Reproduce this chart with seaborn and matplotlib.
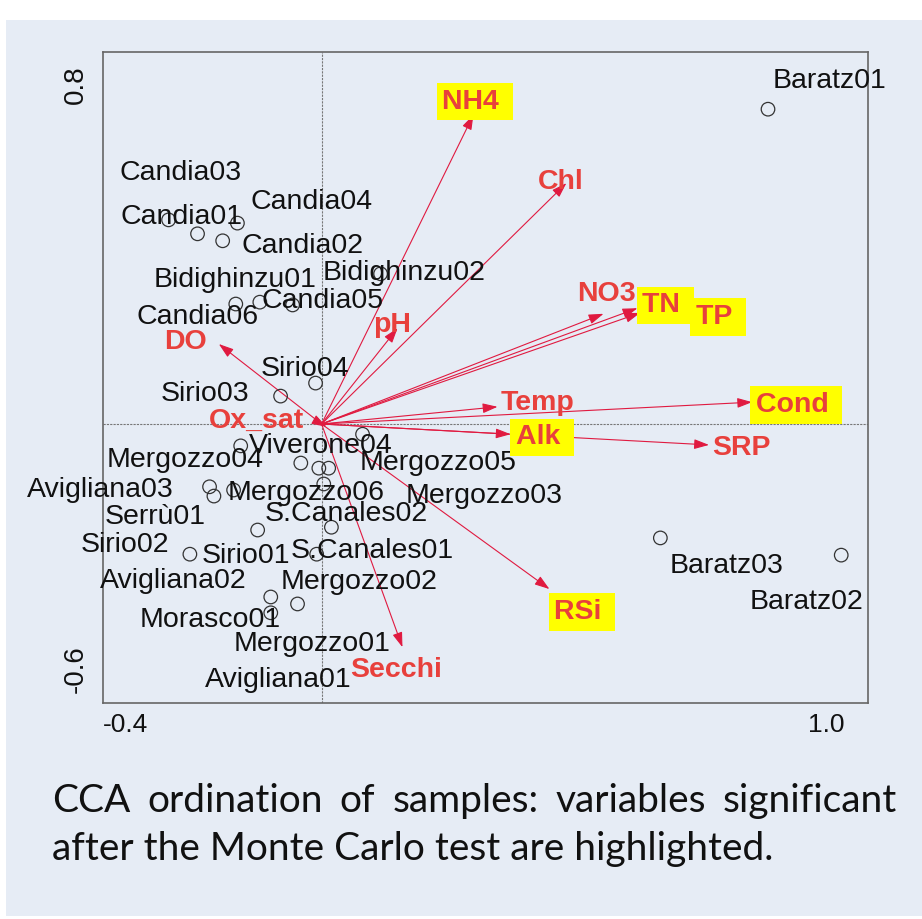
import numpy as np
import pandas as pd
import matplotlib
matplotlib.use("Agg")
import matplotlib.pyplot as plt
from matplotlib.patches import Rectangle
from matplotlib.transforms import ScaledTranslation
import seaborn as sns

# CCA sample scores (axis 1, axis 2)
sample_names = ["Baratz01", "Candia03", "Candia04", "Candia01", "Candia02", "Bidighinzu02",
                "Candia06", "Bidighinzu01", "Candia05", "Sirio04", "Sirio03", "Viverone04",
                "Mergozzo04", "Mergozzo05", "Mergozzo03", "Mergozzo02", "Avigliana01",
                "Avigliana03", "Serrù01", "Mergozzo06", "S.Canales02", "Sirio01", "Sirio02",
                "S.Canales01", "Avigliana02", "Mergozzo01", "Morasco01", "Baratz03", "Baratz02"]
sample_ax1 = [0.817, -0.280, -0.154, -0.227, -0.181, 0.108, -0.157, -0.113, -0.053, -0.011,
              -0.075, 0.075, -0.148, 0.013, -0.038, 0.004, -0.005, -0.205, -0.197, -0.161,
              0.018, -0.117, -0.241, -0.009, -0.093, -0.044, -0.093, 0.620, 0.951]
sample_ax2 = [0.677, 0.439, 0.432, 0.409, 0.394, 0.323, 0.258, 0.262, 0.256, 0.088,
              0.060, -0.022, -0.047, -0.095, -0.084, -0.129, -0.095, -0.135, -0.155, -0.142,
              -0.222, -0.228, -0.280, -0.280, -0.372, -0.387, -0.406, -0.245, -0.282]

# environmental variables (biplot arrows)
var_names = ["NH4", "Chl", "NO3", "TN", "TP", "pH", "DO", "Ox_sat", "Temp", "Cond",
             "Alk", "SRP", "RSi", "Secchi"]
var_ax1 = [0.278, 0.448, 0.516, 0.578, 0.583, 0.139, -0.188, 0.009, 0.322, 0.788,
           0.346, 0.709, 0.417, 0.148]
var_ax2 = [0.665, 0.518, 0.237, 0.249, 0.239, 0.206, 0.172, -0.006, 0.037, 0.047,
           -0.022, -0.045, -0.355, -0.480]
significant = ["NH4", "TN", "TP", "Cond", "Alk", "RSi"]

caption = ["CCA ordination of samples: variables significant",
           "after the Monte Carlo test are highlighted."]

# label placement, pixel offsets from each point (layout only)
sample_offsets = {
    "Baratz01": (61, 31), "Candia03": (12, 50), "Candia04": (74, 24), "Candia01": (-16, 20),
    "Candia02": (80, -2), "Bidighinzu02": (23, 4), "Candia06": (-38, -10),
    "Bidighinzu01": (-25, 25), "Candia05": (30, 7), "Sirio04": (-11, 17), "Sirio03": (-76, 5),
    "Viverone04": (-42, -9), "Mergozzo04": (-56, -11), "Mergozzo05": (109, 8),
    "Mergozzo03": (183, -30), "Mergozzo02": (35, -95), "Avigliana01": (-41, -209),
    "Avigliana03": (-109, 0), "Serrù01": (-59, -18), "Mergozzo06": (73, 0),
    "S.Canales02": (15, 16), "Sirio01": (-12, -23), "Sirio02": (-65, 12),
    "S.Canales01": (56, 6), "Avigliana02": (-98, 19), "Mergozzo01": (15, -37),
    "Morasco01": (-61, -4), "Baratz03": (66, -25), "Baratz02": (-35, -44),
}
var_offsets = {
    "NH4": (-31, 16), "Chl": (-28, 4), "NO3": (-26, 23), "TN": (5, 6), "TP": (56, -1),
    "pH": (-24, 6), "DO": (-55, 5), "Ox_sat": (-118, 9), "Temp": (3, 7), "Cond": (4, 0),
    "Alk": (5, 0), "SRP": (3, 0), "RSi": (5, -20), "Secchi": (-52, -20),
}

df_samples = pd.DataFrame({"name": sample_names, "ax1": sample_ax1, "ax2": sample_ax2})
df_vars = pd.DataFrame({"name": var_names, "ax1": var_ax1, "ax2": var_ax2})

bg = "#e6ecf5"
red_txt = "#e8403c"
red_arrow = "#e01a40"

sns.set_theme(style="white")
plt.rcParams["font.family"] = ["Liberation Sans", "DejaVu Sans"]

W, H = 922, 919
fig = plt.figure(figsize=(W / 100, H / 100), dpi=100, facecolor="white")
fig.patches.append(Rectangle((6 / W, 3 / H), 1 - 6 / W, (H - 23) / H, transform=fig.transFigure,
                             facecolor=bg, edgecolor="none", zorder=-5))
ax = fig.add_axes([103 / W, 1 - 703 / H, 765 / W, 651 / H])
ax.set_facecolor(bg)

ax.axhline(0, color="#777777", lw=0.8, ls=(0, (2, 1)), zorder=1)
ax.axvline(0, color="#777777", lw=0.8, ls=(0, (2, 1)), zorder=1)

# arrows for environmental variables
for row in df_vars.itertuples():
    ax.annotate("", xy=(row.ax1, row.ax2), xytext=(0, 0),
                arrowprops=dict(arrowstyle="-|>,head_length=0.9,head_width=0.3",
                                color=red_arrow, lw=0.8, shrinkA=0, shrinkB=0,
                                mutation_scale=10), zorder=2)

sns.scatterplot(data=df_samples, x="ax1", y="ax2", ax=ax, marker="o", s=95,
                facecolors="none", edgecolor="#333333", linewidth=0.9, legend=False, zorder=3)

for row in df_samples.itertuples():
    ax.annotate(row.name, xy=(row.ax1, row.ax2), xytext=sample_offsets[row.name],
                textcoords="offset pixels", ha="center", va="center_baseline",
                fontsize=20.5, color="#111111", zorder=4)

for row in df_vars.itertuples():
    hl = row.name in significant
    ax.annotate(row.name + (" " if hl else ""), xy=(row.ax1, row.ax2),
                xytext=var_offsets[row.name], textcoords="offset pixels",
                ha="left", va="center_baseline", fontsize=20.5, fontweight="bold",
                color=red_txt, zorder=5,
                bbox=dict(boxstyle="square,pad=0.2", facecolor="#ffff00", edgecolor="none")
                if hl else None)

ax.set_xlim(-0.4, 1.0)
ax.set_ylim(-0.6, 0.8)
xt = np.round(np.arange(-0.4, 1.01, 0.2), 1)
yt = np.round(np.arange(-0.6, 0.81, 0.2), 1)
ax.set_xticks(xt, ["-0.4"] + [""] * (len(xt) - 2) + ["1.0"])
ax.set_yticks(yt, ["-0.6"] + [""] * (len(yt) - 2) + ["0.8"])
ax.set_xlabel("")
ax.set_ylabel("")
ax.tick_params(direction="inout", length=6, width=1, color="#555555",
               labelcolor="#111111")
ax.tick_params(axis="x", pad=4, labelsize=19)
ax.tick_params(axis="y", pad=7, labelsize=20)
for sp in ax.spines.values():
    sp.set_color("#666666")
    sp.set_linewidth(1.2)

xl = ax.get_xticklabels()
xl[0].set_ha("left")
xl[-1].set_ha("right")
xl[-1].set_transform(xl[-1].get_transform() + ScaledTranslation(-0.24, 0, fig.dpi_scale_trans))
yl = ax.get_yticklabels()
for lab in yl:
    lab.set_rotation(90)
yl[0].set_va("bottom")
yl[0].set_transform(yl[0].get_transform() + ScaledTranslation(0, 0.10, fig.dpi_scale_trans))
yl[-1].set_va("top")
yl[-1].set_transform(yl[-1].get_transform() + ScaledTranslation(0, -0.13, fig.dpi_scale_trans))

# caption, first line justified
cap_kw = dict(fontsize=28, family=["Lato", "DejaVu Sans"], color="#111111", va="baseline")
renderer = fig.canvas.get_renderer()
words = caption[0].split()
texts = [fig.text(0, 1 - 812 / H, w, **cap_kw) for w in words]
widths = [t.get_window_extent(renderer).width for t in texts]
gap = (897 - 52 - sum(widths)) / (len(words) - 1)
x = 52
for t, w in zip(texts, widths):
    t.set_x(x / W)
    x += w + gap
fig.text(52 / W, 1 - 860 / H, caption[1], **cap_kw)

fig.savefig("out.png", dpi=100)
